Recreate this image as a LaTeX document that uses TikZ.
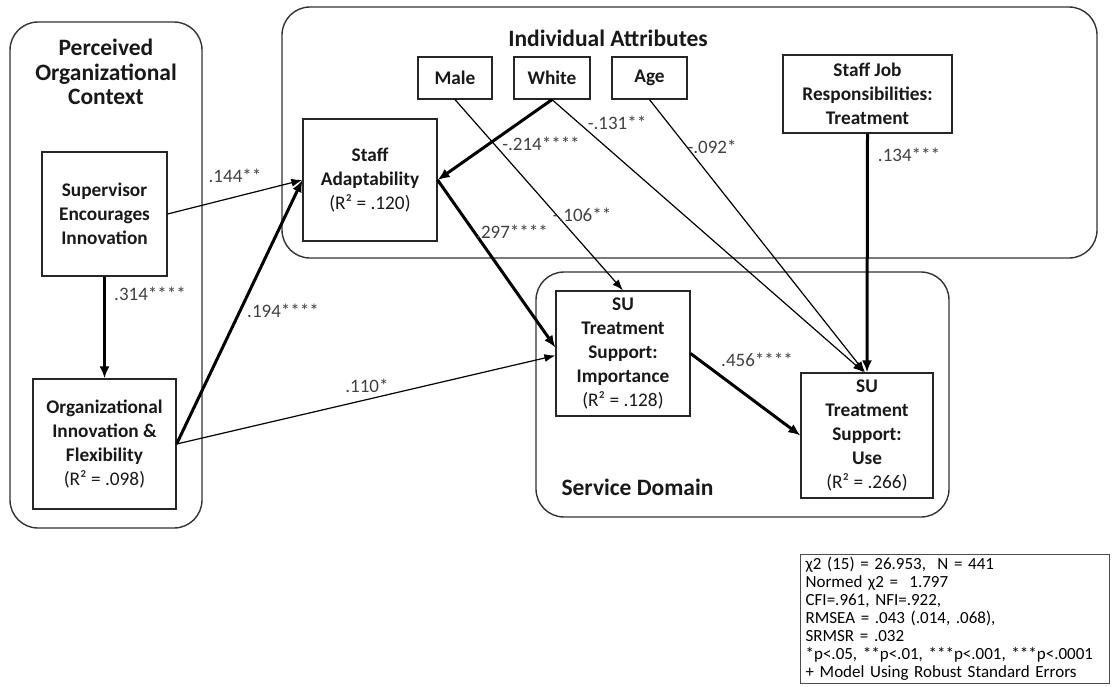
\documentclass[tikz,border=0pt]{standalone}
\usepackage{fontspec}
\setmainfont{Carlito}
\usetikzlibrary{arrows.meta}
\begin{document}
\begin{tikzpicture}[x=1pt,y=-1pt,
  group/.style={draw=black!80, line width=1.4pt, rounded corners=28pt},
  title/.style={font=\fontsize{23.5}{24.5}\selectfont\bfseries, align=center, text=black!90},
  var/.style={draw=black!85, line width=1.2pt, fill=white, align=center, inner sep=0pt, font=\fontsize{19.3}{24}\selectfont\bfseries, text=black!90},
  lbl/.style={font=\fontsize{19}{22}\selectfont, text=black!75, inner sep=0pt},
  lightarrow/.style={line width=1.2pt, -{Latex[length=11pt,width=8pt]}},
  heavyarrow/.style={line width=3pt, -{Latex[length=12pt,width=10pt]}},
]
\useasboundingbox (0,0) rectangle (1113,686);

% groups
\draw[group] (10,22) rectangle (202,528);
\draw[group] (282,7) rectangle (1097,258);
\draw[group] (536,272) rectangle (949,517);

\node[title] (pctitle) at (106,72) {Perceived\\Organizational\\Context};
\node[title] (iatitle) at (608,38) {Individual Attributes};
\node[title, anchor=west] (sdtitle) at (558,487) {Service Domain};

% variables
\node[var, minimum width=125pt, minimum height=124pt] (sup) at (104.5,214) {Supervisor\\Encourages\\Innovation};
\node[var, minimum width=143pt, minimum height=130pt] (org) at (104.5,444) {Organizational\\Innovation \&\\Flexibility\\{\mdseries (R² = .098)}};
\node[var, minimum width=134pt, minimum height=122pt] (sa) at (370,180) {Staff\\Adaptability\\{\mdseries (R² = .120)}};
\node[var, minimum width=74pt, minimum height=42pt] (male) at (455,78) {Male};
\node[var, minimum width=76pt, minimum height=42pt] (white) at (552,78) {White};
\node[var, minimum width=75pt, minimum height=42pt] (age) at (649.5,78) {Age};
\node[var, minimum width=169pt, minimum height=78pt] (job) at (867.5,94) {Staff Job\\Responsibilities:\\Treatment};
\node[var, minimum width=134pt, minimum height=125pt] (imp) at (623,353.5) {SU\\Treatment\\Support:\\Importance\\{\mdseries (R² = .128)}};
\node[var, minimum width=132pt, minimum height=125pt] (use) at (867,435.5) {SU\\Treatment\\Support:\\Use\\{\mdseries (R² = .266)}};

% paths
\draw[lightarrow] (sup.east) -- (sa.west);
\draw[heavyarrow] (sup.south) -- (org.north);
\draw[heavyarrow] (org.east) -- (sa.west);
\draw[lightarrow] (org.east) -- ([yshift=-2pt]imp.west);
\draw[heavyarrow] (sa.east) -- ([yshift=6pt]imp.west);
\draw[heavyarrow] (white.south) -- (sa.east);
\draw[lightarrow] (male.south) -- (imp.north);
\draw[lightarrow] (white.south) -- ([xshift=-3pt]use.north);
\draw[lightarrow] (age.south) -- ([xshift=-2pt]use.north);
\draw[heavyarrow] (job.south) -- (use.north);
\draw[heavyarrow] (imp.east) -- (use.west);

% labels
\node[lbl] (l144) at (235,176) {.144**};
\node[lbl] (l314) at (150,294) {.314****};
\node[lbl] (l194) at (283,311) {.194****};
\node[lbl] (l110) at (367,386) {.110*};
\node[lbl] (l214) at (541,144) {-.214****};
\node[lbl] (l131) at (617,123) {-.131**};
\node[lbl] (l092) at (712,147) {-.092*};
\node[lbl] (l106) at (582,215) {-.106**};
\node[lbl] (l297) at (512,232) {.297****};
\node[lbl] (l134) at (909,155) {.134***};
\node[lbl] (l456) at (757,360) {.456****};

% fit box
\node[draw=black!70, line width=1.2pt, anchor=north west, text width=299pt, minimum height=129pt, inner xsep=5pt, inner ysep=1.5pt, align=left, font=\fontsize{17}{18}\selectfont] (fit) at (800,554) {χ2 (15) = 26.953,\ \ N = 441\\Normed χ2 =\ \ 1.797\\CFI=.961, NFI=.922,\\RMSEA = .043 (.014, .068),\\SRMSR = .032\\{*}p<.05, **p<.01, ***p<.001, ***p<.0001\\+ Model Using Robust Standard Errors};
\end{tikzpicture}
\end{document}
